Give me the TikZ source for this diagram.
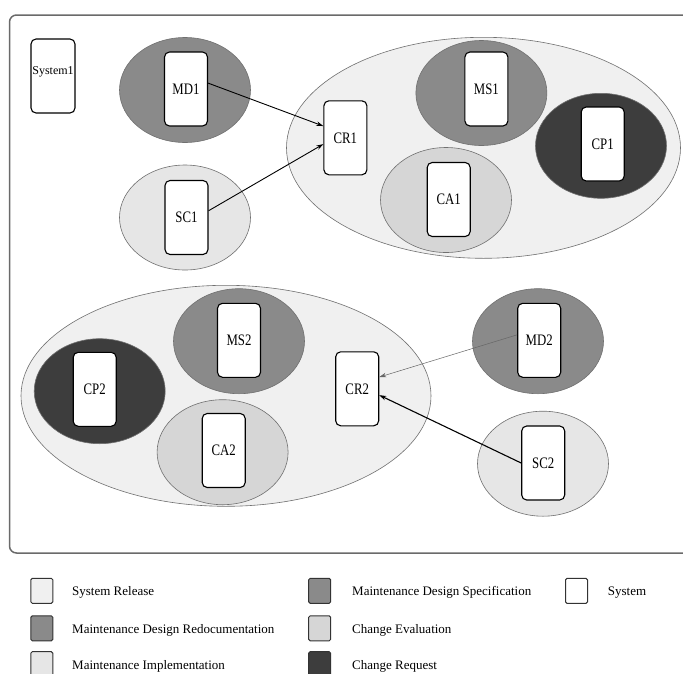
\documentclass[tikz,border=0pt]{standalone}
\usepackage{fontspec}
\setmainfont{Liberation Serif}
\usepackage{graphicx}
\usetikzlibrary{shapes.geometric,arrows.meta}
\definecolor{bigfill}{HTML}{F0F0F0}
\definecolor{mdfill}{HTML}{8A8A8A}
\definecolor{cpfill}{HTML}{3D3D3D}
\definecolor{cafill}{HTML}{D6D6D6}
\definecolor{scfill}{HTML}{E6E6E6}
\definecolor{edge}{HTML}{707070}
\definecolor{framecol}{HTML}{6A6A6A}
\newcommand{\lab}[1]{\scalebox{0.8}[1]{\fontsize{16}{16}\selectfont #1}}
\begin{document}
\begin{tikzpicture}[x=1pt,y=-1pt,
  ell/.style={ellipse,draw=edge,line width=0.6pt,inner sep=0pt,minimum width=131pt,minimum height=105pt},
  bigell/.style={ellipse,draw=edge,fill=bigfill,line width=0.6pt,inner sep=0pt},
  obj/.style={rectangle,rounded corners=5pt,draw=black,line width=1.1pt,fill=white,minimum width=43pt,minimum height=74pt,inner sep=0pt},
  arr/.style={-{Stealth[length=7pt,width=4.5pt]},line width=0.9pt},
  legbox/.style={rectangle,rounded corners=1.5pt,draw=black!80,line width=1pt,minimum width=22pt,minimum height=25pt,inner sep=0pt},
  legtxt/.style={anchor=west,inner sep=0pt,font=\fontsize{13}{13}\selectfont}]
\useasboundingbox (0,0) rectangle (683,673);
\clip (0,0) rectangle (683,673);
\fill[white] (0,0) rectangle (683,673);
% frame
\draw[framecol,line width=1.5pt,rounded corners=7pt] (9.5,15) rectangle (720,553);
% system
\node[obj,minimum width=44pt,minimum height=74pt] (sys1) at (53,76) {};
\node[inner sep=0pt,font=\fontsize{12}{12}\selectfont] (sys1t) at (53,72) {System1};
% MD1 and SC1
\node[ell,fill=mdfill] (md1e) at (185,90) {};
\node[obj] (md1) at (186,89) {\lab{MD1}};
\node[ell,fill=scfill] (sc1e) at (185,217.5) {};
\node[obj] (sc1) at (186.5,217.5) {\lab{SC1}};
% release 1
\node[bigell,minimum width=394pt,minimum height=221pt] (r1) at (483.5,147.8) {};
\node[obj] (cr1) at (345.4,137.8) {\lab{CR1}};
\node[ell,fill=mdfill] (ms1e) at (481.4,93) {};
\node[obj] (ms1) at (486.4,89) {\lab{MS1}};
\node[ell,fill=cpfill] (cp1e) at (601,145.8) {};
\node[obj] (cp1) at (602.7,144) {\lab{CP1}};
\node[ell,fill=cafill] (ca1e) at (446,200) {};
\node[obj] (ca1) at (448.7,199.5) {\lab{CA1}};
% release 2
\node[bigell,minimum width=410pt,minimum height=221pt] (r2) at (226,395.8) {};
\node[ell,fill=mdfill] (ms2e) at (239,341.2) {};
\node[obj] (ms2) at (239,340.3) {\lab{MS2}};
\node[ell,fill=cpfill] (cp2e) at (99.7,391.2) {};
\node[obj] (cp2) at (94.7,389.3) {\lab{CP2}};
\node[ell,fill=cafill] (ca2e) at (222.6,452.2) {};
\node[obj] (ca2) at (223.7,450.5) {\lab{CA2}};
\node[obj] (cr2) at (357.2,388.8) {\lab{CR2}};
% MD2 and SC2
\node[ell,fill=mdfill] (md2e) at (538,341.2) {};
\node[obj] (md2) at (539.2,340.3) {\lab{MD2}};
\node[ell,fill=scfill] (sc2e) at (543,463.7) {};
\node[obj] (sc2) at (543.2,463) {\lab{SC2}};
% arrows
\draw[arr] (md1.15) -- (cr1.152);
\draw[arr] (sc1.17) -- (cr1.196);
\draw[arr,line width=0.5pt,draw=black!60] (md2.166) -- (cr2.28);
\draw[arr,line width=1.1pt] (sc2.180) -- (cr2.344);
% legend
\node[legbox,fill=bigfill] (lg1) at (41.8,590.8) {};
\node[legtxt] (lt1) at (72,592.5) {System Release};
\node[legbox,fill=mdfill] (lg2) at (41.8,628.3) {};
\node[legtxt] (lt2) at (72,630) {Maintenance Design Redocumentation};
\node[legbox,fill=scfill] (lg3) at (41.8,664.2) {};
\node[legtxt] (lt3) at (72,666) {Maintenance Implementation};
\node[legbox,fill=mdfill] (lg4) at (319.7,590.8) {};
\node[legtxt] (lt4) at (352,592.5) {Maintenance Design Specification};
\node[legbox,fill=cafill] (lg5) at (319.7,628.3) {};
\node[legtxt] (lt5) at (352,630) {Change Evaluation};
\node[legbox,fill=cpfill] (lg6) at (319.7,664.2) {};
\node[legtxt] (lt6) at (352,666) {Change Request};
\node[legbox,fill=white] (lg7) at (576.5,590.8) {};
\node[legtxt] (lt7) at (607.7,592.5) {System};
\end{tikzpicture}
\end{document}
